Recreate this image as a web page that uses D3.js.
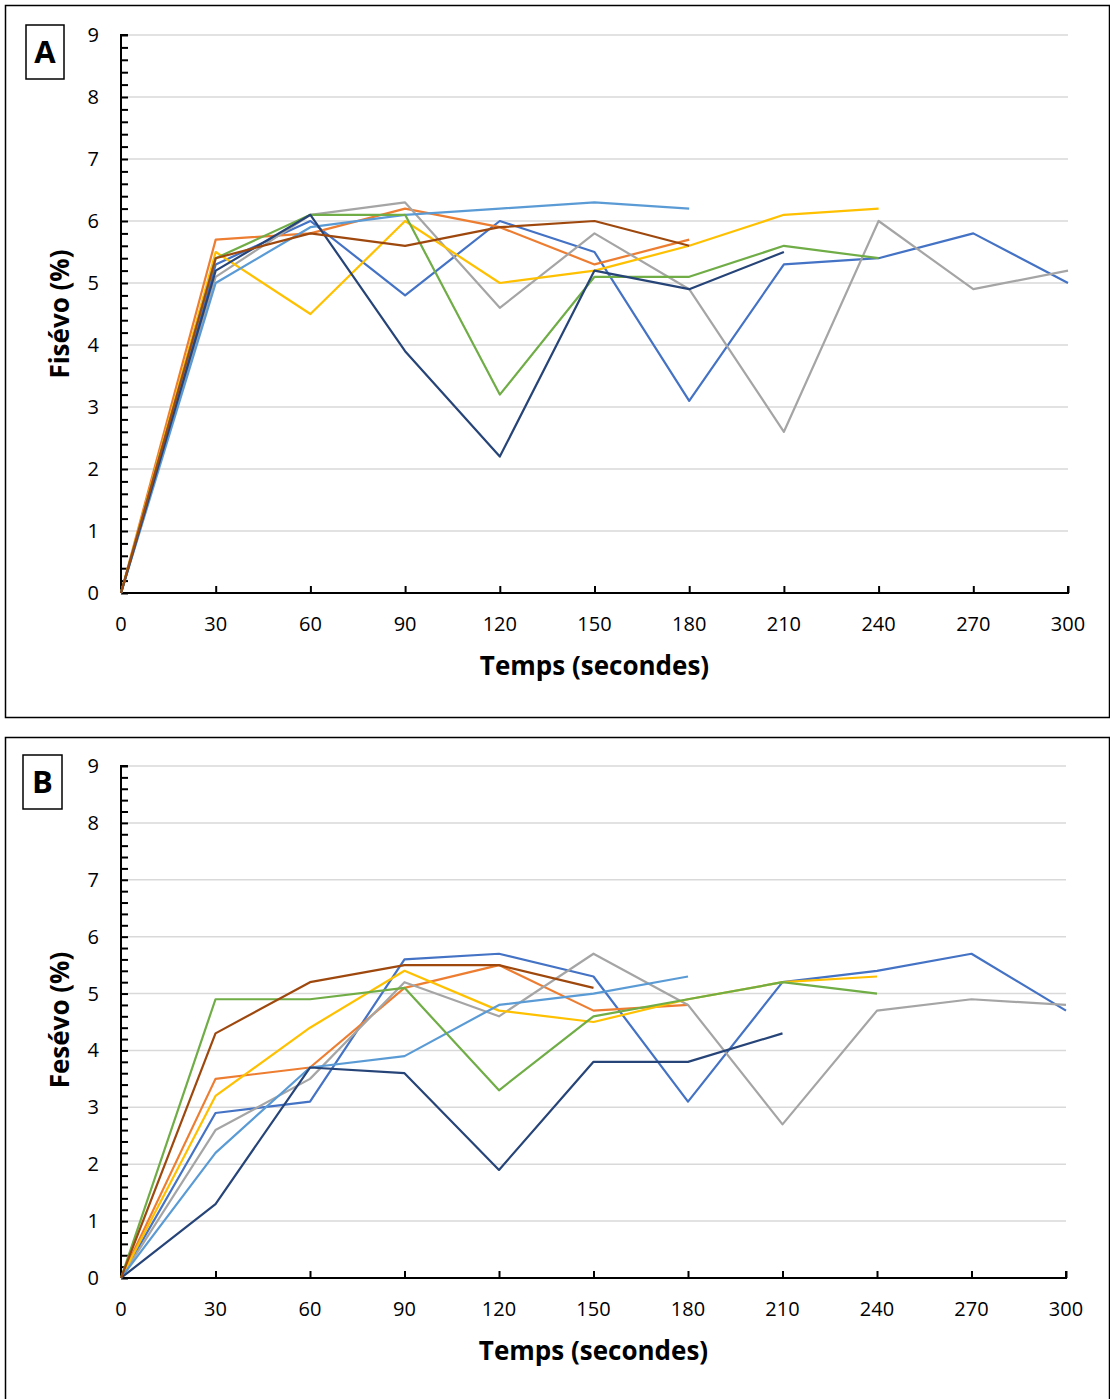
<!DOCTYPE html>
<html><head><meta charset="utf-8">
<script src="https://cdn.jsdelivr.net/npm/d3@7"></script>
<style>
body{margin:0;background:#fff;}
svg{display:block;font-family:"Open Sans","Noto Sans",sans-serif;}
</style></head>
<body><svg id="c" width="1110" height="1399"></svg>
<script>
const times = [0,30,60,90,120,150,180,210,240,270,300];
const xTicks = [0,30,60,90,120,150,180,210,240,270,300];
const yTicks = [0,1,2,3,4,5,6,7,8,9];
const seriesNames = ["blue","orange","gray","yellow","lightblue","green","darkblue","brown"];
const colors = ["#4472C4","#ED7D31","#A5A5A5","#FFC000","#5B9BD5","#70AD47","#264478","#9E480E"];

// Panel A (Fisévo)
const aBlue      = [0,5.3,6.0,4.8,6.0,5.5,3.1,5.3,5.4,5.8,5.0];
const aOrange    = [0,5.7,5.8,6.2,5.9,5.3,5.7];
const aGray      = [0,5.1,6.1,6.3,4.6,5.8,4.9,2.6,6.0,4.9,5.2];
const aYellow    = [0,5.5,4.5,6.0,5.0,5.2,5.6,6.1,6.2];
const aLightBlue = [0,5.0,5.9,6.1,6.2,6.3,6.2];
const aGreen     = [0,5.4,6.1,6.1,3.2,5.1,5.1,5.6,5.4];
const aDarkBlue  = [0,5.2,6.1,3.9,2.2,5.2,4.9,5.5];
const aBrown     = [0,5.4,5.8,5.6,5.9,6.0,5.6];

// Panel B (Fesévo)
const bBlue      = [0,2.9,3.1,5.6,5.7,5.3,3.1,5.2,5.4,5.7,4.7];
const bOrange    = [0,3.5,3.7,5.1,5.5,4.7,4.8];
const bGray      = [0,2.6,3.5,5.2,4.6,5.7,4.8,2.7,4.7,4.9,4.8];
const bYellow    = [0,3.2,4.4,5.4,4.7,4.5,4.9,5.2,5.3];
const bLightBlue = [0,2.2,3.7,3.9,4.8,5.0,5.3];
const bGreen     = [0,4.9,4.9,5.1,3.3,4.6,4.9,5.2,5.0];
const bDarkBlue  = [0,1.3,3.7,3.6,1.9,3.8,3.8,4.3];
const bBrown     = [0,4.3,5.2,5.5,5.5,5.1];

const panels = [
  {label:"A", ytitle:"Fisévo (%)", series:[aBlue,aOrange,aGray,aYellow,aLightBlue,aGreen,aDarkBlue,aBrown],
   frame:[5.5,5.5,1104,712], box:[26,25,38,54], x0:121, x1:1068, y0:593, y1:35, ytitleX:60, ytitleY:314},
  {label:"B", ytitle:"Fesévo (%)", series:[bBlue,bOrange,bGray,bYellow,bLightBlue,bGreen,bDarkBlue,bBrown],
   frame:[5.5,737.5,1104,700], box:[23,755,39,54], x0:121, x1:1066, y0:1278, y1:766, ytitleX:60, ytitleY:1020}
];

const svg = d3.select("#c");

panels.forEach(p => {
  const g = svg.append("g");
  g.append("rect").attr("x",p.frame[0]).attr("y",p.frame[1]).attr("width",p.frame[2]).attr("height",p.frame[3])
    .attr("fill","none").attr("stroke","#000").attr("stroke-width",1.5);
  g.append("rect").attr("x",p.box[0]).attr("y",p.box[1]).attr("width",p.box[2]).attr("height",p.box[3])
    .attr("fill","none").attr("stroke","#000").attr("stroke-width",1.5);
  g.append("text").attr("x",p.box[0]+p.box[2]/2).attr("y",p.box[1]+p.box[3]/2+11)
    .attr("text-anchor","middle").attr("font-size",31).attr("font-weight","bold").text(p.label);

  const x = d3.scaleLinear().domain([0,300]).range([p.x0,p.x1]);
  const y = d3.scaleLinear().domain([0,9]).range([p.y0,p.y1]);

  g.append("g").selectAll("line").data(yTicks.filter(d=>d>0)).join("line")
    .attr("x1",p.x0).attr("x2",p.x1).attr("y1",d=>y(d)).attr("y2",d=>y(d))
    .attr("stroke","#d9d9d9").attr("stroke-width",1.5);

  const yAxis = d3.axisRight(y).tickValues(d3.range(0,9.01,0.2)).tickSize(7).tickFormat("");
  const ya = g.append("g").attr("transform",`translate(${p.x0},0)`).call(yAxis);
  ya.select(".domain").attr("stroke","#000").attr("stroke-width",2).attr("d",`M7,${p.y1}H0V${p.y0}`);
  ya.selectAll(".tick line").attr("stroke","#000").attr("stroke-width",2);
  g.append("g").selectAll("text").data(yTicks).join("text")
    .attr("x",p.x0-22).attr("y",d=>y(d)+7).attr("text-anchor","end")
    .attr("font-size",20).attr("fill","#000").text(d=>d);

  const xAxis = d3.axisTop(x).tickValues(xTicks).tickSize(7).tickFormat("");
  const xa = g.append("g").attr("transform",`translate(0,${p.y0})`).call(xAxis);
  xa.select(".domain").attr("stroke","#000").attr("stroke-width",2).attr("d",`M${p.x0},0H${p.x1}V-7`);
  xa.selectAll(".tick line").attr("stroke","#000").attr("stroke-width",2);
  g.append("g").selectAll("text").data(xTicks).join("text")
    .attr("x",d=>x(d)).attr("y",p.y0+38).attr("text-anchor","middle")
    .attr("font-size",20).attr("fill","#000").text(d=>d);

  g.append("text").attr("x",(p.x0+p.x1)/2).attr("y",p.y0+82).attr("text-anchor","middle")
    .attr("font-size",26).attr("font-weight","bold").text("Temps (secondes)");
  g.append("text").attr("transform",`translate(${p.ytitleX+9},${p.ytitleY}) rotate(-90)`)
    .attr("text-anchor","middle").attr("font-size",26).attr("font-weight","bold").text(p.ytitle);

  const line = d3.line().x((d,i)=>x(times[i])).y(d=>y(d));
  p.series.forEach((s,i) => {
    g.append("path").datum(s).attr("d",line).attr("fill","none")
      .attr("stroke",colors[i]).attr("stroke-width",2.2).attr("stroke-linejoin","round");
  });
});
</script></body></html>
